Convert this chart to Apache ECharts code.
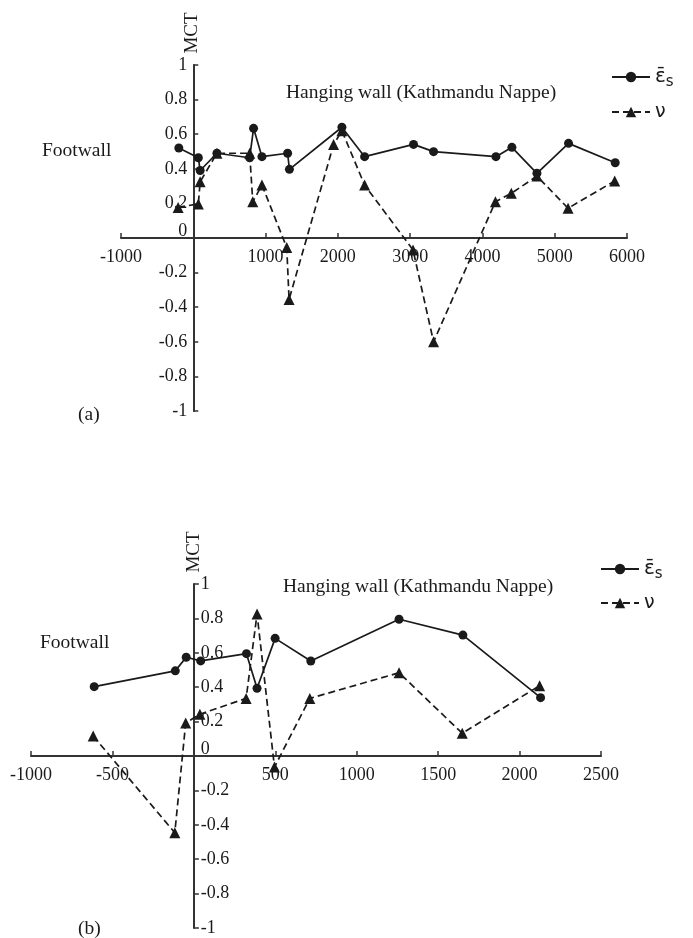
<!DOCTYPE html>
<html>
<head>
<meta charset="utf-8">
<script src="https://cdn.jsdelivr.net/npm/echarts@6/dist/echarts.min.js"></script>
<style>
html,body{margin:0;padding:0;background:#fff;}
#chart{width:693px;height:938px;}
</style>
</head>
<body>
<div id="chart"></div>
<script>
// Panel (a)
const aEpsX = [-200, 70, 95, 327, 780, 834, 950, 1305, 1330, 2056, 2370, 3047, 3324, 4187, 4408, 4754, 5191, 5837];
const aEpsY = [0.52, 0.464, 0.39, 0.49, 0.464, 0.634, 0.47, 0.49, 0.397, 0.64, 0.47, 0.541, 0.499, 0.47, 0.524, 0.374, 0.547, 0.435];
const aNuX = [-210, 70, 95, 327, 780, 823, 950, 1293, 1325, 1941, 2056, 2370, 3040, 3324, 4180, 4400, 4754, 5185, 5830];
const aNuY = [0.177, 0.197, 0.325, 0.49, 0.49, 0.21, 0.306, -0.055, -0.355, 0.54, 0.62, 0.306, -0.069, -0.6, 0.21, 0.258, 0.358, 0.172, 0.33];
// Panel (b)
const bEpsX = [-612, -114, -47, 42, 323, 388, 499, 718, 1260, 1652, 2129];
const bEpsY = [0.403, 0.495, 0.574, 0.553, 0.595, 0.394, 0.684, 0.552, 0.795, 0.703, 0.339];
const bNuX = [-618, -117, -50, 37, 321, 388, 495, 712, 1260, 1648, 2123];
const bNuY = [0.116, -0.446, 0.192, 0.243, 0.335, 0.826, -0.064, 0.335, 0.484, 0.132, 0.409];
// Axis ticks [min, max, interval]
const aXRange = [-1000, 6000, 1000];
const bXRange = [-1000, 2500, 500];
const yRange = [-1, 1, 0.2];
const EPS = 'ε̄s';
const NU = 'ν';

const zip = (xs, ys) => xs.map((x, i) => [x, ys[i]]);
const ink = '#1a1a1a';
const serif = 'Liberation Serif';

const gridA = {left: 121, top: 65, width: 506, height: 346};
const gridB = {left: 31, top: 584, width: 570, height: 344};

// offset that places an axis on the other axis' zero
function zeroOffsetFromStart(r, len) { return -len * (0 - r[0]) / (r[1] - r[0]); }
function zeroOffsetFromEnd(r, len) { return -len * (r[1] - 0) / (r[1] - r[0]); }

function xAxisCfg(gi, r, grid) {
  return {
    type: 'value', gridIndex: gi, min: r[0], max: r[1], interval: r[2],
    position: 'bottom', offset: zeroOffsetFromStart(yRange, grid.height),
    axisLine: {onZero: false, lineStyle: {color: '#333', width: 2}},
    axisTick: {show: true, inside: true, length: 5, lineStyle: {color: '#333', width: 1.5}},
    axisLabel: {color: ink, fontFamily: serif, fontSize: 18, margin: 10,
      formatter: v => v === 0 ? '' : String(v)},
    splitLine: {show: false}
  };
}
function yAxisCfg(gi, pos, inside, margin, offset) {
  return {
    type: 'value', gridIndex: gi, min: yRange[0], max: yRange[1], interval: yRange[2],
    position: pos, offset: offset,
    axisLine: {onZero: false, lineStyle: {color: '#333', width: 2}},
    axisTick: {show: true, inside: inside, length: 5, lineStyle: {color: '#333', width: 1.5}},
    axisLabel: {color: ink, fontFamily: serif, fontSize: 18, margin: margin,
      formatter: v => { const s = String(+(+v).toFixed(1)); return Math.abs(v) < 1e-9 ? '{z|0}' : s; },
      rich: {z: {fontFamily: serif, fontSize: 18, color: ink, padding: [0, 0, 14, 0]}}},
    splitLine: {show: false}
  };
}
function series(name, data, gi, symbol, size, dashed) {
  return {
    name: name, type: 'line', xAxisIndex: gi, yAxisIndex: gi, data: data,
    symbol: symbol, symbolSize: size, showSymbol: true,
    itemStyle: {color: ink},
    lineStyle: {color: ink, width: 1.7, type: dashed ? [7, 4] : 'solid'},
    emphasis: {disabled: true}, animation: false
  };
}
function legendCfg(left, top, gap) {
  return {
    data: [EPS, NU], orient: 'vertical', left: left, top: top, padding: 0,
    itemWidth: 38, itemHeight: 13, itemGap: gap, selectedMode: false,
    textStyle: {color: ink, fontFamily: 'DejaVu Sans', fontSize: 19,
      rich: {e: {fontFamily: 'DejaVu Sans', fontSize: 20, color: ink},
             s: {fontFamily: 'DejaVu Sans', fontSize: 15, color: ink, padding: [10, 0, 0, 0]}}},
    formatter: n => n === EPS ? '{e|ε̄}{s|s}' : n
  };
}
function txt(x, y, text, extra) {
  return Object.assign({type: 'text', x: x, y: y, silent: true,
    style: {text: text, font: '19.5px "Liberation Serif"', fill: ink, align: 'left', verticalAlign: 'middle'}}, extra || {});
}
function vtxt(x, y, text) {
  return {type: 'text', x: x, y: y, rotation: Math.PI / 2, silent: true,
    style: {text: text, font: '19px "Liberation Serif"', fill: ink, align: 'center', verticalAlign: 'middle'}};
}

const chart = echarts.init(document.getElementById('chart'), null, {renderer: 'canvas'});
chart.setOption({
  backgroundColor: '#fff',
  animation: false,
  grid: [gridA, gridB],
  xAxis: [xAxisCfg(0, aXRange, gridA), xAxisCfg(1, bXRange, gridB)],
  yAxis: [
    yAxisCfg(0, 'left', true, 6, zeroOffsetFromStart(aXRange, gridA.width)),
    yAxisCfg(1, 'right', false, 7, zeroOffsetFromEnd(bXRange, gridB.width))
  ],
  legend: [legendCfg(611, 67, 13), legendCfg(600, 559, 12)],
  series: [
    series(EPS, zip(aEpsX, aEpsY), 0, 'circle', 9, false),
    series(NU, zip(aNuX, aNuY), 0, 'triangle', 11, true),
    series(EPS, zip(bEpsX, bEpsY), 1, 'circle', 9, false),
    series(NU, zip(bNuX, bNuY), 1, 'triangle', 11, true)
  ],
  graphic: [
    vtxt(192, 33, 'MCT'),
    txt(286, 93, 'Hanging wall (Kathmandu Nappe)'),
    txt(42, 151, 'Footwall'),
    txt(78, 415, '(a)'),
    vtxt(194, 552, 'MCT'),
    txt(283, 587, 'Hanging wall (Kathmandu Nappe)'),
    txt(40, 643, 'Footwall'),
    txt(78, 929, '(b)')
  ]
});
</script>
</body>
</html>
